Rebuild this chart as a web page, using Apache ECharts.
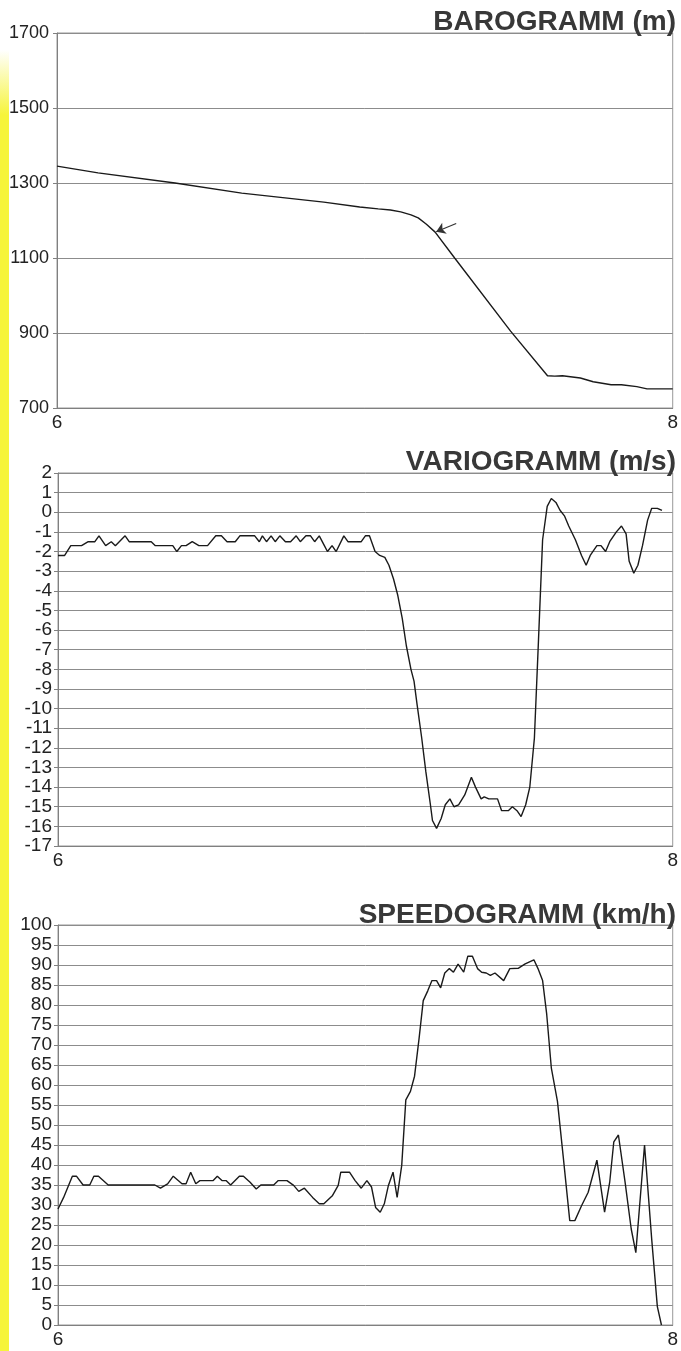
<!DOCTYPE html>
<html>
<head>
<meta charset="utf-8">
<script src="https://cdn.jsdelivr.net/npm/echarts@6/dist/echarts.min.js"></script>
<style>
html, body { margin: 0; padding: 0; background: #fff; }
#main { width: 681px; height: 1351px; }
</style>
</head>
<body>
<div id="main"></div>
<script>
// time axis is in seconds, labelled in minutes (6 .. 8)
var baroSec = [360, 368, 383, 396, 412, 419, 422.6, 425, 427, 429, 430.4, 432, 433.7, 437.5, 448.4, 455.6, 457, 458.5, 462, 464.5, 468, 470, 473, 475, 480];
var baroAlt = [1345, 1327, 1300, 1273, 1249, 1236, 1231, 1228, 1223, 1215, 1207, 1190, 1169, 1100, 905, 786, 785, 786, 780, 770, 762, 762, 757, 751, 751];

var varioSec = [
	360, 361.3, 362.5, 364.6, 365.9, 367.2, 368, 369.3, 370.4, 371.2,
	373.1, 373.9, 378.2, 379, 382.4, 383.2, 384.1, 385, 386.2, 387.5,
	389.2, 390.8, 391.9, 393, 394.6, 395.5, 398.4, 399.3, 399.9, 400.7,
	401.6, 402.4, 403.3, 404.4, 405.4, 406.5, 407.3, 408.4, 409.3, 410.1,
	411, 412, 412.6, 413.5, 414.3, 415.8, 416.6, 419.2, 420, 420.8,
	421.9, 422.8, 423.8, 424.6, 425.5, 426.3, 427.2, 428, 428.9, 429.5,
	430.1, 431, 431.8, 432.7, 433.1, 433.9, 434.8, 435.6, 436.5, 437.3,
	438.2, 439.4, 440.7, 441.5, 442.6, 443.2, 444.1, 445.8, 446.6, 447.9,
	448.7, 449.6, 450.4, 451.3, 452.1, 453, 453.8, 454.6, 455.5, 456.3,
	457.2, 458, 458.9, 459.7, 461, 462.2, 463.1, 463.9, 465.2, 466,
	466.9, 467.7, 469, 470, 470.9, 471.5, 472.4, 473.2, 474.1, 475.1,
	475.9, 477, 477.9
];
var varioRate = [
	-2.2, -2.2, -1.7, -1.7, -1.5, -1.5, -1.2, -1.7, -1.5, -1.7,
	-1.2, -1.5, -1.5, -1.7, -1.7, -2.0, -1.7, -1.7, -1.5, -1.7,
	-1.7, -1.2, -1.2, -1.5, -1.5, -1.2, -1.2, -1.5, -1.2, -1.5,
	-1.2, -1.5, -1.2, -1.5, -1.5, -1.2, -1.5, -1.2, -1.2, -1.5,
	-1.2, -1.7, -2.0, -1.7, -2.0, -1.2, -1.5, -1.5, -1.2, -1.2,
	-2.0, -2.2, -2.3, -2.7, -3.4, -4.2, -5.4, -6.8, -8.0, -8.6,
	-9.8, -11.5, -13.2, -14.9, -15.7, -16.1, -15.6, -14.9, -14.6, -15.0,
	-14.9, -14.4, -13.5, -14.0, -14.6, -14.5, -14.6, -14.6, -15.2, -15.2,
	-15.0, -15.2, -15.5, -14.9, -14.0, -11.5, -6.5, -1.4, 0.3, 0.7,
	0.5, 0.1, -0.2, -0.7, -1.4, -2.2, -2.7, -2.2, -1.7, -1.7,
	-2.0, -1.5, -1.0, -0.7, -1.1, -2.5, -3.1, -2.7, -1.7, -0.4,
	0.2, 0.2, 0.1
];

var speedSec = [
	360, 361.1, 362.8, 363.6, 364.9, 366.2, 367, 367.9, 369.8, 378.9,
	380, 381.4, 382.5, 384.2, 385, 385.9, 386.9, 387.7, 390.3, 391.1,
	392, 392.8, 393.7, 395.4, 396.2, 397.5, 398.7, 399.6, 402.1, 403,
	404.7, 406, 407, 408.1, 409.7, 411, 411.9, 413.6, 414.7, 415.2,
	416.9, 418, 419.2, 420.3, 421.2, 422, 422.9, 423.7, 424.5, 425.4,
	426.2, 427.1, 427.9, 428.8, 429.6, 430.5, 431.3, 432.2, 433, 433.9,
	434.7, 435.5, 436.4, 437.2, 438.1, 439.2, 440, 440.9, 441.9, 442.7,
	443.6, 444.4, 445.3, 447, 448.2, 449.9, 451.2, 452.9, 453.7, 454.6,
	455.4, 456.3, 457.5, 458.6, 459.9, 460.9, 462.2, 463.5, 465.2, 466.7,
	467.7, 468.5, 469.4, 470.7, 471.9, 472.8, 474.5, 475.9, 477, 477.8
];
var speedKmh = [
	29.0, 31.9, 37.2, 37.2, 35.0, 35.0, 37.2, 37.2, 35.0, 35.0,
	34.2, 35.3, 37.2, 35.3, 35.3, 38.2, 35.3, 36.1, 36.1, 37.2,
	36.1, 36.1, 35.0, 37.2, 37.2, 35.7, 34.0, 35.0, 35.0, 36.1,
	36.1, 34.9, 33.4, 34.2, 31.9, 30.3, 30.3, 32.4, 34.9, 38.2,
	38.2, 36.1, 34.2, 36.1, 34.5, 29.4, 28.2, 30.3, 34.9, 38.2,
	31.9, 39.9, 56.3, 58.4, 62.2, 71.8, 81.1, 83.6, 86.1, 86.1,
	84.3, 88.0, 89.1, 88.2, 90.2, 88.2, 92.2, 92.2, 89.1, 88.2,
	88.0, 87.4, 88.0, 86.1, 89.1, 89.2, 90.3, 91.3, 89.1, 86.1,
	77.7, 64.3, 55.9, 42.4, 26.1, 26.1, 29.8, 33.2, 41.2, 28.2,
	35.7, 45.8, 47.5, 35.7, 24.0, 18.1, 45.0, 21.4, 4.6, 0
];

var font = 'Liberation Sans, Arial, sans-serif';

function pairs(xs, ys) {
	return xs.map(function(x, i) { return [x, ys[i]]; });
}

function makeX(idx) {
	return {
		type: 'value',
		gridIndex: idx,
		min: 360,
		max: 480,
		interval: 120,
		axisLine: { show: true, onZero: false, lineStyle: { color: '#808080' } },
		axisTick: { show: false },
		splitLine: { show: false },
		axisLabel: {
			color: '#222',
			fontSize: 19,
			fontFamily: font,
			margin: 5,
			formatter: function(v) { return v / 60; }
		}
	};
}

function makeY(idx, min, max, step, size, margin) {
	return {
		type: 'value',
		gridIndex: idx,
		min: min,
		max: max,
		interval: step,
		axisLine: { show: true, lineStyle: { color: '#808080' } },
		axisTick: { show: true, length: 4, lineStyle: { color: '#808080' } },
		axisLabel: {
			color: '#222',
			fontSize: size,
			fontFamily: font,
			margin: margin,
			formatter: function(v) { return String(v); }
		},
		splitLine: { lineStyle: { color: '#8c8c8c', width: 1 } }
	};
}

function makeTitle(text, top) {
	return {
		text: text,
		right: 5,
		top: top,
		padding: 0,
		textStyle: { fontSize: 28, fontWeight: 'bold', color: '#383838', fontFamily: font }
	};
}

var lineStyle = { color: '#1a1a1a', width: 1.4 };

var chart = echarts.init(document.getElementById('main'));
chart.setOption({
	animation: false,
	backgroundColor: '#fff',
	title: [
		makeTitle('BAROGRAMM (m)', 8),
		makeTitle('VARIOGRAMM (m/s)', 448),
		makeTitle('SPEEDOGRAMM (km/h)', 901)
	],
	grid: [
		{ left: 57, top: 33, width: 619, height: 375, show: true, borderColor: '#999', borderWidth: 1 },
		{ left: 58, top: 473, width: 617, height: 373, show: true, borderColor: '#999', borderWidth: 1 },
		{ left: 58, top: 925, width: 616, height: 400, show: true, borderColor: '#999', borderWidth: 1 }
	],
	xAxis: [makeX(0), makeX(1), makeX(2)],
	yAxis: [
		makeY(0, 700, 1700, 200, 18, 8),
		makeY(1, -17, 2, 1, 19, 6),
		makeY(2, 0, 100, 5, 19, 6)
	],
	graphic: [{
		// yellow edge of the scanned page
		type: 'rect',
		left: 0,
		top: 50,
		z: -1,
		shape: { width: 9, height: 1301 },
		style: {
			fill: new echarts.graphic.LinearGradient(0, 0, 0, 1, [
				{ offset: 0, color: 'rgba(246,244,58,0)' },
				{ offset: 0.05, color: '#f6f43a' },
				{ offset: 1, color: '#f6f43a' }
			])
		}
	}],
	series: [{
			name: 'baro',
			type: 'line',
			xAxisIndex: 0,
			yAxisIndex: 0,
			showSymbol: false,
			lineStyle: lineStyle,
			data: pairs(baroSec, baroAlt),
			markLine: {
				silent: true,
				symbol: ['none', 'arrow'],
				symbolSize: 9,
				label: { show: false },
				lineStyle: { color: '#333', type: 'solid', width: 1.2 },
				data: [[{ coord: [437.8, 1192] }, { coord: [433.9, 1170] }]]
			}
		},
		{
			name: 'vario',
			type: 'line',
			xAxisIndex: 1,
			yAxisIndex: 1,
			showSymbol: false,
			lineStyle: lineStyle,
			data: pairs(varioSec, varioRate)
		},
		{
			name: 'speed',
			type: 'line',
			xAxisIndex: 2,
			yAxisIndex: 2,
			showSymbol: false,
			lineStyle: lineStyle,
			data: pairs(speedSec, speedKmh)
		}
	]
});
</script>
</body>
</html>
